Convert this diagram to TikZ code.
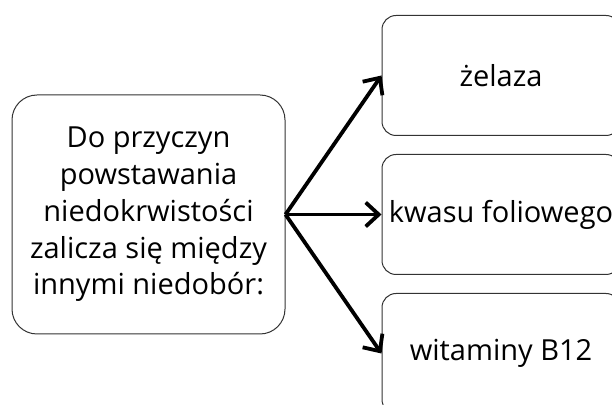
\documentclass[tikz,border=0pt]{standalone}
\usepackage{fontspec}
\setmainfont{Open Sans}
\usetikzlibrary{arrows.meta, positioning}
\colorlet{box-line}{black!80}
\tikzset{
    main-box/.style = {draw=box-line, line width=1bp, rounded corners=25bp,
        minimum width=273bp, minimum height=239bp, inner sep=0pt, align=center,
        font=\fontsize{29bp}{36.7bp}\selectfont},
    leaf-box/.style = {draw=box-line, line width=1bp, rounded corners=14bp,
        minimum width=238bp, minimum height=120bp, inner sep=0pt,
        font=\fontsize{29bp}{36.7bp}\selectfont},
    link/.style = {line width=3.8bp, -{Straight Barb[length=13bp, width=24bp]}},
}

\begin{document}
\begin{tikzpicture}

\useasboundingbox (0,0) rectangle (612bp,405bp);
\clip (0,0) rectangle (612bp,405bp);

\node[main-box] (main) at (148.5bp,190.5bp)
    {Do przyczyn\\powstawania\\niedokrwistości\\zalicza się między\\innymi niedobór:};

\node[leaf-box, right=96bp of main] (kwas) {kwasu foliowego};
\node[leaf-box, above=18bp of kwas] (zelazo) {żelaza};
\node[leaf-box, below=18bp of kwas] (b12) {witaminy B12};

\draw[link] (main.east) -- (zelazo.west);
\draw[link] (main.east) -- (kwas.west);
\draw[link] (main.east) -- (b12.west);

\end{tikzpicture}
\end{document}
